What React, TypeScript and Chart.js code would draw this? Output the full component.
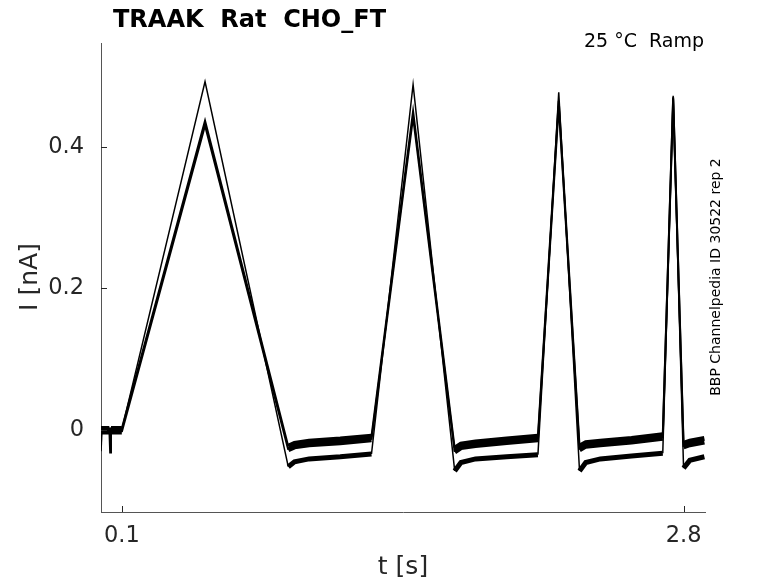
import React, { useEffect, useRef } from "react";
import { Chart, registerables } from "chart.js";

Chart.register(...registerables);

// time points [s] of the ramp protocol traces
const times = [0, 0.005, 0.04, 0.044, 0.048, 0.1, 0.5, 0.9, 0.93, 1.0, 1.15, 1.3, 1.5, 1.7, 1.73, 1.8, 1.95, 2.1, 2.2, 2.3, 2.33, 2.4, 2.55, 2.7, 2.75, 2.8, 2.83, 2.9];

// current [nA] for each recorded trace
const traceA = [-0.03, 0.0, 0.0, 0.0, 0.0, 0.0, 0.492, -0.052, -0.045, -0.041, -0.038, -0.034, 0.488, -0.058, -0.046, -0.041, -0.038, -0.035, 0.477, -0.058, -0.046, -0.041, -0.037, -0.033, 0.472, -0.054, -0.043, -0.038];
const traceB = [0.002, 0.002, 0.002, -0.032, 0.002, 0.002, 0.437, -0.023, -0.019, -0.016, -0.013, -0.009, 0.45, -0.026, -0.02, -0.017, -0.013, -0.009, 0.465, -0.023, -0.018, -0.016, -0.012, -0.007, 0.47, -0.019, -0.016, -0.012];
const traceC = [0.004, -0.003, -0.003, -0.003, -0.003, -0.003, 0.43, -0.028, -0.024, -0.021, -0.018, -0.014, 0.442, -0.031, -0.025, -0.022, -0.018, -0.014, 0.458, -0.028, -0.023, -0.021, -0.017, -0.012, 0.468, -0.024, -0.021, -0.017];

const xTicks = [0.1, 2.8];
const yTicks = [0, 0.2, 0.4];

const FONT = "'DejaVu Sans', sans-serif";
const INK = "#262626";

// inward tick marks + free text (title, labels, side note)
const annotate = {
  id: "annotate",
  afterDraw(chart: any) {
    const { ctx, chartArea, scales } = chart;
    ctx.save();
    ctx.strokeStyle = INK;
    ctx.lineWidth = 1;
    yTicks.forEach((v) => {
      const py = Math.round(scales.y.getPixelForValue(v)) + 0.5;
      ctx.beginPath();
      ctx.moveTo(chartArea.left, py);
      ctx.lineTo(chartArea.left + 6, py);
      ctx.stroke();
    });
    xTicks.forEach((v) => {
      const px = Math.round(scales.x.getPixelForValue(v)) + 0.5;
      ctx.beginPath();
      ctx.moveTo(px, chartArea.bottom);
      ctx.lineTo(px, chartArea.bottom - 6);
      ctx.stroke();
    });

    ctx.fillStyle = "#000";
    ctx.font = `bold 24px ${FONT}`;
    ctx.textAlign = "left";
    ctx.textBaseline = "alphabetic";
    ctx.fillText("TRAAK  Rat  CHO_FT", 113, 27);

    ctx.font = `19px ${FONT}`;
    ctx.textAlign = "right";
    ctx.fillText("25 °C  Ramp", 704, 47);

    ctx.fillStyle = INK;
    ctx.font = `25px ${FONT}`;
    ctx.textAlign = "center";
    ctx.textBaseline = "middle";
    ctx.fillText("t [s]", 403, 567);

    ctx.save();
    ctx.translate(30, 277);
    ctx.rotate(-Math.PI / 2);
    ctx.fillText("I [nA]", 0, 0);
    ctx.restore();

    ctx.fillStyle = "#000";
    ctx.font = `14px ${FONT}`;
    ctx.save();
    ctx.translate(716, 277);
    ctx.rotate(-Math.PI / 2);
    ctx.fillText("BBP Channelpedia ID 30522 rep 2", 0, 0);
    ctx.restore();

    ctx.restore();
  },
};

const makeSet = (vals: number[], rampW: number, holdW: number) => ({
  data: times.map((t, i) => ({ x: t, y: vals[i] })),
  borderColor: "#000",
  borderWidth: rampW,
  pointRadius: 0,
  tension: 0,
  segment: {
    borderWidth: (c: any) =>
      Math.abs(c.p1.parsed.y - c.p0.parsed.y) < 0.015 ? holdW : rampW,
  },
});

const App: React.FC = () => {
  const canvasRef = useRef<HTMLCanvasElement>(null);
  const chartRef = useRef<Chart | null>(null);

  useEffect(() => {
    if (!canvasRef.current) return;
    if (chartRef.current) chartRef.current.destroy();

    chartRef.current = new Chart(canvasRef.current, {
      type: "line",
      data: {
        datasets: [makeSet(traceA, 1.5, 5), makeSet(traceB, 2, 5), makeSet(traceC, 2, 5)],
      },
      options: {
        animation: false,
        responsive: true,
        maintainAspectRatio: false,
        layout: { padding: { left: 0, top: 43, right: 73, bottom: 0 } },
        plugins: { legend: { display: false }, tooltip: { enabled: false } },
        scales: {
          x: {
            type: "linear",
            min: 0,
            max: 2.903,
            afterBuildTicks: (s: any) => {
              s.ticks = xTicks.map((v) => ({ value: v }));
            },
            afterFit: (s: any) => {
              s.height = 71;
            },
            grid: { display: false, drawTicks: false },
            border: { display: true, color: "#555", width: 1 },
            ticks: {
              color: INK,
              font: { family: FONT, size: 22.5 },
              padding: 11,
              maxRotation: 0,
              callback: (v: any) => String(v),
            },
          },
          y: {
            type: "linear",
            min: -0.116,
            max: 0.5466,
            afterBuildTicks: (s: any) => {
              s.ticks = yTicks.map((v) => ({ value: v }));
            },
            afterFit: (s: any) => {
              s.width = 101;
            },
            grid: { display: false, drawTicks: false },
            border: { display: true, color: "#555", width: 1 },
            ticks: {
              color: INK,
              font: { family: FONT, size: 22.5 },
              padding: 17,
              callback: (v: any) => String(v),
            },
          },
        },
      },
      plugins: [annotate],
    });

    return () => {
      if (chartRef.current) {
        chartRef.current.destroy();
        chartRef.current = null;
      }
    };
  }, []);

  return (
    <div style={{ position: "absolute", left: 0, top: 0, width: 778, height: 583, background: "#fff" }}>
      <canvas ref={canvasRef}></canvas>
    </div>
  );
};

export default App;
